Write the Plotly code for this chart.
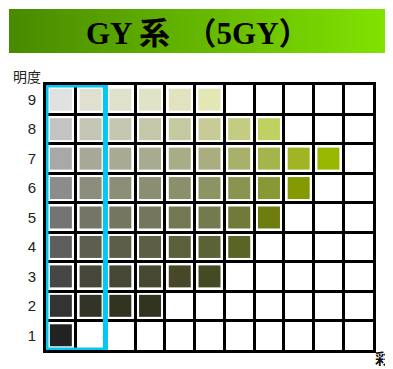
import plotly.graph_objects as go

# ---- data ----
chroma_labels = ["N", "1", "1.5", "2", "3", "4", "6", "8", "10", "12", "14"]
value_labels = ["1", "2", "3", "4", "5", "6", "7", "8", "9"]

colors_v9 = ["#e0e1e1", "#e0e0d0", "#e0e1cb", "#e1e3c6", "#e1e3be", "#e3e7b3"]
colors_v8 = ["#c4c4c4", "#c4c5b4", "#c5c7b0", "#c5c8a8", "#c5c9a0", "#c8cb98", "#c3cc80", "#c0d162"]
colors_v7 = ["#a8a8a8", "#a8a898", "#a8aa94", "#a8ab8f", "#a9ad86", "#a9ad7f", "#a8b06a", "#a6b44c", "#a0b424", "#98b800"]
colors_v6 = ["#8c8c8c", "#8c8d7c", "#8c8e78", "#8b8e72", "#8c906a", "#8d9464", "#8a9450", "#889834", "#849a00"]
colors_v5 = ["#747474", "#747566", "#757660", "#74775c", "#747852", "#747a50", "#727a3a", "#6e7c10"]
colors_v4 = ["#5e5e5e", "#5d5e4e", "#5d5e4a", "#5c5f45", "#5c603c", "#5c6238", "#5a6424"]
colors_v3 = ["#464646", "#464639", "#464734", "#46482f", "#464827", "#444a22"]
colors_v2 = ["#333333", "#333327", "#333322", "#333420"]
colors_v1 = ["#222222"]

rows = {"1": colors_v1, "2": colors_v2, "3": colors_v3, "4": colors_v4, "5": colors_v5,
        "6": colors_v6, "7": colors_v7, "8": colors_v8, "9": colors_v9}

title_text = "GY 系　（5GY）"

xs, ys, cs = [], [], []
for v, cols in rows.items():
    for i, c in enumerate(cols):
        xs.append(chroma_labels[i])
        ys.append(v)
        cs.append(c)

# page body adds an 8px margin, so the figure itself is 385x361
W, H = 385, 361
fig = go.Figure()

fig.add_trace(go.Scatter(
    x=xs, y=ys, mode="markers",
    marker=dict(symbol="square", size=22, color=cs, line=dict(width=0)),
    hoverinfo="skip", showlegend=False, cliponaxis=False,
))

# title bar with gradient
fig.add_trace(go.Scatter(
    x=[0, 1, 1, 0, 0], y=[0, 0, 1, 1, 0], xaxis="x2", yaxis="y2",
    mode="lines", line=dict(width=0), fill="toself",
    fillgradient=dict(type="horizontal",
                      colorscale=[[0, "#488a00"], [1, "#82e400"]]),
    hoverinfo="skip", showlegend=False,
))

axis_font = dict(family="Liberation Sans Narrow, Liberation Sans, Arial", size=15, color="#222222")

fig.update_layout(
    width=W, height=H,
    margin=dict(l=0, r=0, t=0, b=0, autoexpand=False),
    paper_bgcolor="white", plot_bgcolor="white",
    xaxis=dict(type="category", categoryorder="array", categoryarray=chroma_labels,
               range=[-0.5, 10.5], domain=[38 / W, 365 / W], automargin=False,
               tickson="boundaries", ticks="", showgrid=True, gridcolor="black", gridwidth=3,
               showline=True, linecolor="black", linewidth=3, mirror=True,
               tickfont=axis_font, ticklabelstandoff=11, fixedrange=True, zeroline=False),
    yaxis=dict(type="category", categoryorder="array", categoryarray=value_labels,
               range=[-0.5, 8.5], domain=[(H - 342) / H, (H - 77) / H], automargin=False,
               tickson="boundaries", ticks="", showgrid=True, gridcolor="black", gridwidth=3,
               showline=True, linecolor="black", linewidth=3, mirror=True,
               tickfont=axis_font, ticklabelstandoff=4, fixedrange=True, zeroline=False),
    xaxis2=dict(domain=[1 / W, 384 / W], range=[0, 1], visible=False, fixedrange=True, automargin=False),
    yaxis2=dict(domain=[(H - 45) / H, (H - 1) / H], range=[0, 1], visible=False, fixedrange=True, automargin=False),
    shapes=[dict(type="rect", xref="x", yref="y", x0=-0.5, x1=1.5, y0=-0.5, y1=8.5,
                 line=dict(color="#00c8f2", width=5), layer="above")],
    annotations=[
        dict(text=title_text, xref="paper", yref="paper", x=190 / W, y=(H - 25) / H,
             showarrow=False, xanchor="center", yanchor="middle",
             font=dict(family="Liberation Serif, Noto Sans CJK JP", size=31, color="black", weight="bold")),
        dict(text="明度", xref="paper", yref="paper", x=19 / W, y=(H - 68) / H,
             showarrow=False, xanchor="center", yanchor="middle",
             font=dict(family="Noto Sans CJK JP", size=14, color="#222222")),
        dict(text="彩", xref="paper", yref="paper", x=374 / W, y=(H - 349) / H,
             showarrow=False, xanchor="center", yanchor="middle",
             font=dict(family="Noto Sans CJK JP", size=15, color="#111111", weight="bold")),
    ],
)

fig.write_html("out.html")
